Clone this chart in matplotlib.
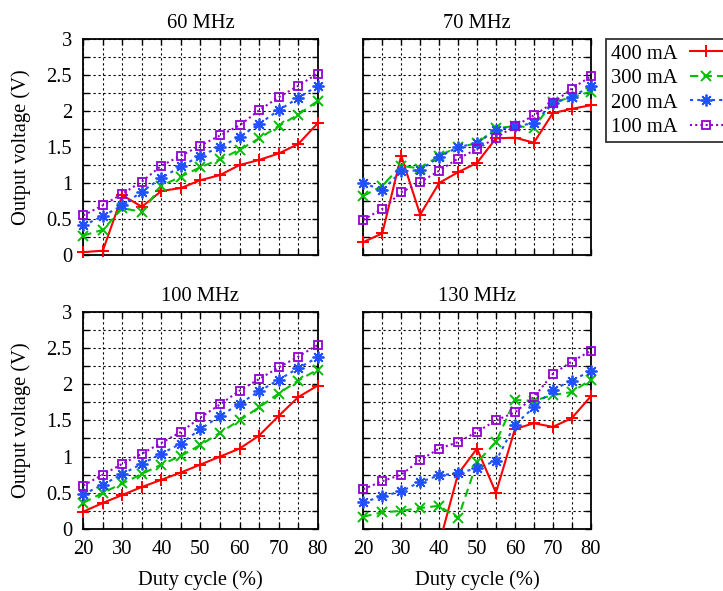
import numpy as np
import matplotlib
matplotlib.use("Agg")
import matplotlib.pyplot as plt
from matplotlib.lines import Line2D
from matplotlib.ticker import MultipleLocator, FixedLocator, FixedFormatter

plt.rcParams['font.family'] = ['Liberation Serif', 'DejaVu Serif']
plt.rcParams['mathtext.fontset'] = 'stix'

duty = [20, 25, 30, 35, 40, 45, 50, 55, 60, 65, 70, 75, 80]
nan = np.nan

# 60 MHz
v60_400 = [0.04, 0.06, 0.83, 0.67, 0.89, 0.93, 1.04, 1.11, 1.25, 1.32, 1.41, 1.54, 1.83]
v60_300 = [0.27, 0.35, 0.65, 0.60, 0.96, 1.09, 1.22, 1.33, 1.46, 1.62, 1.79, 1.95, 2.14]
v60_200 = [0.41, 0.54, 0.69, 0.88, 1.07, 1.23, 1.38, 1.50, 1.64, 1.82, 2.01, 2.18, 2.35]
v60_100 = [0.55, 0.69, 0.85, 1.02, 1.24, 1.38, 1.52, 1.66, 1.80, 2.01, 2.19, 2.35, 2.52]
# 70 MHz
v70_400 = [0.18, 0.30, 1.38, 0.56, 1.00, 1.15, 1.28, 1.62, 1.63, 1.56, 1.97, 2.03, 2.08]
v70_300 = [0.82, 0.96, 1.24, 1.20, 1.38, 1.50, 1.55, 1.76, 1.79, 1.77, 2.12, 2.19, 2.27]
v70_200 = [1.00, 0.90, 1.16, 1.18, 1.36, 1.50, 1.55, 1.74, 1.79, 1.83, 2.11, 2.19, 2.35]
v70_100 = [0.49, 0.64, 0.87, 1.01, 1.17, 1.34, 1.47, 1.63, 1.79, 1.94, 2.11, 2.31, 2.48]
# 100 MHz
v100_400 = [0.24, 0.36, 0.47, 0.58, 0.68, 0.78, 0.89, 1.00, 1.11, 1.29, 1.56, 1.82, 1.98]
v100_300 = [0.36, 0.50, 0.63, 0.76, 0.89, 1.01, 1.16, 1.33, 1.50, 1.68, 1.87, 2.05, 2.20]
v100_200 = [0.48, 0.61, 0.76, 0.90, 1.04, 1.18, 1.38, 1.56, 1.73, 1.90, 2.06, 2.22, 2.37]
v100_100 = [0.60, 0.75, 0.90, 1.04, 1.19, 1.34, 1.54, 1.72, 1.91, 2.07, 2.23, 2.38, 2.54]
# 130 MHz
v130_400 = [nan, nan, nan, nan, -0.21, 0.76, 1.11, 0.50, 1.38, 1.46, 1.41, 1.53, 1.83]
v130_300 = [0.17, 0.23, 0.25, 0.29, 0.32, 0.15, 0.92, 1.20, 1.78, 1.77, 1.85, 1.89, 2.06]
v130_200 = [0.37, 0.45, 0.52, 0.65, 0.74, 0.77, 0.84, 0.94, 1.44, 1.68, 1.92, 2.05, 2.18]
v130_100 = [0.55, 0.66, 0.75, 0.95, 1.11, 1.20, 1.34, 1.50, 1.61, 1.82, 2.14, 2.31, 2.46]

titles = ["60 MHz", "70 MHz", "100 MHz", "130 MHz"]
series_labels = ["400 mA", "300 mA", "200 mA", "100 mA"]
panels = [
    [v60_400, v60_300, v60_200, v60_100],
    [v70_400, v70_300, v70_200, v70_100],
    [v100_400, v100_300, v100_200, v100_100],
    [v130_400, v130_300, v130_200, v130_100],
]
xticks = [20, 30, 40, 50, 60, 70, 80]
yticks = [0, 0.5, 1, 1.5, 2, 2.5, 3]
ytick_labels = ["0", "0.5", "1", "1.5", "2", "2.5", "3"]

styles = [
    dict(color='#ff0000', ls='-', marker='+', ms=8.5, mew=1.4),
    dict(color='#00c000', ls=(0, (4, 2.5)), marker='x', ms=7, mew=1.4),
    dict(color='#2050ff', ls=(0, (1.5, 2, 1.5, 2)), marker=(8, 2, 0), ms=8.5, mew=1.3),
    dict(color='#9400d3', ls=(0, (1, 1.5)), marker='s', ms=6, mew=1.3),
]

W, H = 723, 591
fig = plt.figure(figsize=(W / 100, H / 100), dpi=100)

# axes rectangles in pixels: (left, top, right, bottom)
rects = [
    (83.3, 39, 317.7, 255),
    (363.3, 39, 590.7, 255),
    (83.3, 311.7, 317.7, 529),
    (363.3, 311.7, 590.7, 529),
]
FS = 14.8

axes = []
for i, (l, t, r, b) in enumerate(rects):
    ax = fig.add_axes([l / W, 1 - b / H, (r - l) / W, (b - t) / H])
    axes.append(ax)
    ax.set_xlim(20, 80)
    ax.set_ylim(0, 3)
    ax.xaxis.set_major_locator(FixedLocator(xticks))
    ax.xaxis.set_minor_locator(MultipleLocator(5))
    ax.yaxis.set_major_locator(FixedLocator(yticks))
    ax.yaxis.set_minor_locator(MultipleLocator(0.25))
    ax.yaxis.set_major_formatter(FixedFormatter(ytick_labels))
    ax.tick_params(which='both', direction='in', top=True, right=True,
                   length=4.5, width=1.0, labelsize=FS, pad=8)
    if i < 2:
        ax.tick_params(labelbottom=False)
    if i % 2 == 1:
        ax.tick_params(labelleft=False)
    ax.grid(which='both', color='black', linestyle=(0, (2, 2.5)), linewidth=0.8)
    ax.set_axisbelow(True)
    for s in ax.spines.values():
        s.set_linewidth(1.3)
    ax.set_title(titles[i], fontsize=FS, pad=8)

    for vals, st in zip(panels[i], styles):
        x = np.array(duty, dtype=float)
        y = np.array(vals, dtype=float)
        ax.plot(x, y, color=st['color'], linestyle=st['ls'], linewidth=1.5,
                clip_on=True, zorder=3)
        m = (y >= 0) & (y <= 3)
        ax.plot(x[m], y[m], linestyle='none', marker=st['marker'],
                markersize=st['ms'], markeredgewidth=st['mew'],
                color=st['color'], markerfacecolor='none', clip_on=False, zorder=4)

# axis labels
for (l, t, r, b) in (rects[0], rects[2]):
    fig.text(21.5 / W, 1 - ((t + b) / 2) / H, "Output voltage (V)", rotation=90,
             ha='center', va='center', fontsize=FS)
for (l, t, r, b) in (rects[2], rects[3]):
    fig.text(((l + r) / 2) / W, 1 - 589.5 / H, "Duty cycle (%)",
             ha='center', va='bottom', fontsize=FS)

handles = [Line2D([], [], color=st['color'], linestyle=st['ls'], linewidth=1.5,
                  marker=st['marker'], markersize=st['ms'], markeredgewidth=st['mew'],
                  markerfacecolor='none') for st in styles]
leg = fig.legend(handles, series_labels, loc='upper left',
                 bbox_to_anchor=(605.7 / W, 1 - 39 / H), bbox_transform=fig.transFigure,
                 markerfirst=False, frameon=True, fancybox=False, edgecolor='#333333',
                 framealpha=1, fontsize=FS, handlelength=1.6, handletextpad=0.6,
                 labelspacing=0.25, borderpad=0.25, borderaxespad=0)
leg.get_frame().set_linewidth(1.3)

fig.savefig("out.png", dpi=100)
